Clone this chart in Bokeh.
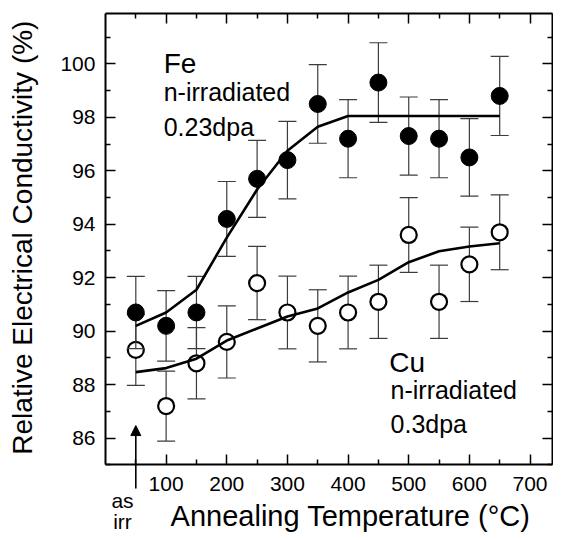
import math
from bokeh.plotting import figure
from bokeh.models import Range1d, LinearAxis, FixedTicker, Label, Arrow, NormalHead
from bokeh.embed import file_html
from bokeh.resources import INLINE

# ---------------- data ----------------
temps = [50, 100, 150, 200, 250, 300, 350, 400, 450, 500, 550, 600, 650]

fe_values = [90.7, 90.2, 90.7, 94.2, 95.7, 96.4, 98.5, 97.2, 99.3, 97.3, 97.2, 96.5, 98.8]
fe_errors = [1.35, 1.32, 1.35, 1.40, 1.44, 1.45, 1.47, 1.46, 1.49, 1.46, 1.46, 1.45, 1.48]
fe_fit = [90.2, 90.7, 91.55, 93.5, 95.3, 96.75, 97.65, 98.05, 98.05, 98.05, 98.05, 98.05, 98.05]

cu_values = [89.3, 87.2, 88.8, 89.6, 91.8, 90.7, 90.2, 90.7, 91.1, 93.6, 91.1, 92.5, 93.7]
cu_errors = [1.33, 1.31, 1.33, 1.35, 1.37, 1.36, 1.35, 1.36, 1.37, 1.40, 1.37, 1.39, 1.40]
cu_fit = [88.47, 88.62, 88.97, 89.65, 90.1, 90.55, 90.85, 91.45, 91.92, 92.58, 92.99, 93.17, 93.29]

x_min, x_edge = 0, 737
y_min, y_max = 85, 101.9
x_major_ticks = [100, 200, 300, 400, 500, 600, 700]
x_minor_ticks = [50, 150, 250, 350, 450, 550, 650]
y_major_ticks = [86, 88, 90, 92, 94, 96, 98, 100]
y_minor_ticks = [85, 87, 89, 91, 93, 95, 97, 99, 101]

x_title = "Annealing Temperature (°C)"
y_title = "Relative Electrical Conductivity (%)"

fe_title = "Fe"
fe_sub = ["n-irradiated", "0.23dpa"]
cu_title = "Cu"
cu_sub = ["n-irradiated", "0.3dpa"]
as_irr_lines = ["as", "irr"]
as_irr_temp = 50

FONT = "Liberation Sans"

# ---------------- figure ----------------
W, H = 553, 532
X0, X1 = -173.1, 738.7
Y0, Y1 = 82.47, 102.37
px_per_x = W / (X1 - X0)
px_per_y = H / (Y1 - Y0)

# The frame covers the whole canvas; the four box axes sit at fixed data
# locations, so the titles and the "as irr" note are drawn inside the frame.
p = figure(width=W, height=H,
           x_range=Range1d(X0, X1), y_range=Range1d(Y0, Y1),
           output_backend="svg", toolbar_location=None,
           min_border_left=0, min_border_right=0,
           min_border_top=0, min_border_bottom=0,
           x_axis_location=None, y_axis_location=None)
p.background_fill_color = "white"
p.border_fill_color = "white"
p.outline_line_color = None
p.xgrid.visible = False
p.ygrid.visible = False


def make_axis(major, minor, labels, **kw):
    ax = LinearAxis(**kw)
    ax.ticker = FixedTicker(ticks=major, minor_ticks=minor)
    ax.axis_line_width = 2
    ax.axis_line_color = "black"
    ax.major_tick_in = 10
    ax.major_tick_out = 0
    ax.minor_tick_in = 5
    ax.minor_tick_out = 0
    ax.major_tick_line_width = 1.5
    ax.minor_tick_line_width = 1.5
    ax.major_tick_line_color = "black"
    ax.minor_tick_line_color = "black"
    if labels:
        ax.major_label_text_font = FONT
        ax.major_label_text_font_size = "21px"
        ax.major_label_text_color = "black"
    else:
        ax.major_label_overrides = {t: "" for t in major}
        ax.major_label_standoff = 0
    return ax


xb = make_axis(x_major_ticks, x_minor_ticks, True,
               fixed_location=y_min, bounds=(x_min, x_edge))
xb.major_label_standoff = 12
p.add_layout(xb, "below")

yl = make_axis(y_major_ticks, y_minor_ticks, True,
               fixed_location=x_min, bounds=(y_min, y_max))
yl.major_label_standoff = 10
p.add_layout(yl, "left")

xt = make_axis(x_major_ticks, x_minor_ticks, False,
               fixed_location=y_max, bounds=(x_min, x_edge))
p.add_layout(xt, "above")

yr = make_axis(y_major_ticks, y_minor_ticks, False,
               fixed_location=x_edge, bounds=(y_min, y_max))
p.add_layout(yr, "right")

# ---------------- error bars, points, fits ----------------
bar_color = "#3c3c3c"
cu_low = [v - e for v, e in zip(cu_values, cu_errors)]
cu_high = [v + e for v, e in zip(cu_values, cu_errors)]
fe_low = [v - e for v, e in zip(fe_values, fe_errors)]
fe_high = [v + e for v, e in zip(fe_values, fe_errors)]

p.segment(x0=temps, y0=cu_low, x1=temps, y1=cu_high, line_color=bar_color, line_width=1.2)
p.scatter(x=temps + temps, y=cu_low + cu_high, marker="dash", size=18,
          line_color=bar_color, line_width=1.2)
p.scatter(x=temps, y=cu_values, marker="circle", size=16, fill_color="white",
          line_color="black", line_width=2.2)

p.segment(x0=temps, y0=fe_low, x1=temps, y1=fe_high, line_color=bar_color, line_width=1.2)
p.scatter(x=temps + temps, y=fe_low + fe_high, marker="dash", size=18,
          line_color=bar_color, line_width=1.2)
p.scatter(x=temps, y=fe_values, marker="circle", size=17, fill_color="black",
          line_color="black", line_width=1)

p.line(temps, fe_fit, line_color="black", line_width=2.6)
p.line(temps, cu_fit, line_color="black", line_width=2.6)

# ---------------- annotations ----------------
BASE_SHIFT = 0.35  # rendered text sits this many em below the requested baseline


def add_label(x, y, text, size_px, align="left", angle=0.0):
    shift = BASE_SHIFT * size_px
    if angle:
        x = x - shift / px_per_x
    else:
        y = y + shift / px_per_y
    p.add_layout(Label(x=x, y=y, text=text, text_font=FONT, text_font_size=f"{size_px}px",
                       text_color="black", text_align=align, text_baseline="alphabetic",
                       angle=angle))


add_label(96, 99.65, fe_title, 28)
add_label(96, 98.63, fe_sub[0], 25)
add_label(96, 97.32, fe_sub[1], 25)

add_label(468, 88.47, cu_title, 28)
add_label(470, 87.47, cu_sub[0], 25)
add_label(470, 86.19, cu_sub[1], 25)

add_label(28, 83.41, as_irr_lines[0], 21, "center")
add_label(28, 82.59, as_irr_lines[1], 21, "center")

p.add_layout(Arrow(end=NormalHead(size=10, fill_color="black", line_color="black"),
                   x_start=as_irr_temp, y_start=84.12, x_end=as_irr_temp, y_end=86.47,
                   line_color="black", line_width=1.6))

add_label(404, 82.72, x_title, 29, "center")
add_label(-120.4, 93.5, y_title, 28, "center", math.pi / 2)

open("out.html", "w").write(file_html(p, INLINE))
